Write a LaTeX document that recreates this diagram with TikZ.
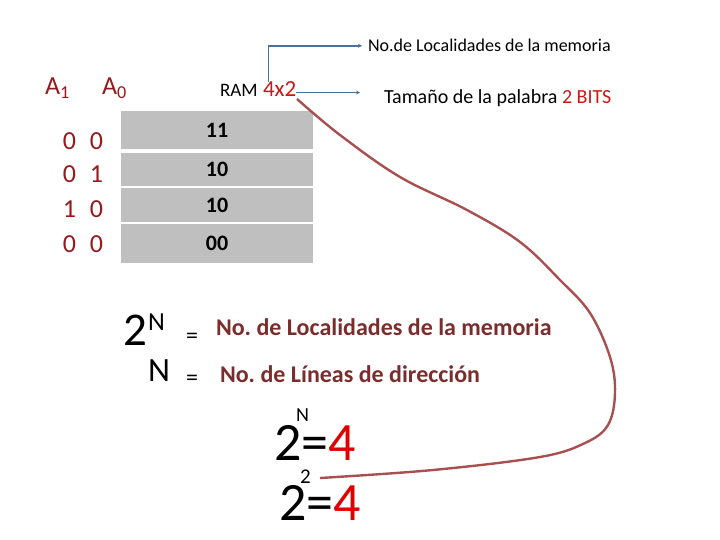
\documentclass[tikz,border=0pt]{standalone}
\usepackage{fontspec}
\setmainfont{Carlito}
\usetikzlibrary{arrows.meta}
\definecolor{addr}{RGB}{150,25,30}
\definecolor{redx}{RGB}{200,25,25}
\definecolor{redbig}{RGB}{225,0,0}
\definecolor{brownt}{RGB}{122,45,45}
\definecolor{curvec}{RGB}{168,80,80}
\definecolor{bluec}{RGB}{75,112,160}
\definecolor{cellg}{RGB}{191,191,191}
\newcommand{\fs}[1]{\fontsize{#1}{#1}\selectfont}
\tikzset{
  txt/.style={inner sep=0pt, outer sep=0pt, anchor=base west},
  cell/.style={fill=cellg, inner sep=0pt, minimum width=192pt, font=\fs{22}\bfseries},
  bit/.style={inner sep=0pt, anchor=base, text=addr, font=\fs{26}},
  bluearrow/.style={draw=bluec, line width=1.4pt, -{Stealth[length=4pt,width=4pt]}},
  curveline/.style={draw=curvec, line width=2.4pt},
}
\begin{document}
\frenchspacing
\begin{tikzpicture}[x=1pt,y=-1pt]
\useasboundingbox (0,0) rectangle (720,540);
% top labels
\node[txt, font=\fs{18}] (top) at (368,52) {No.de Localidades de la memoria};
\node[txt, font=\fs{20}] (tam) at (384,104) {Tamaño de la palabra \textcolor{redx}{2 BITS}};
\node[txt, font=\fs{19}] (ram) at (220,97) {RAM};
\node[txt, font=\fs{23}, text=redx] (dim) at (263,97) {4x2};
% address headers
\node[txt, font=\fs{26}, text=addr] (a1) at (45,95) {A\textsubscript{1}};
\node[txt, font=\fs{26}, text=addr] (a0) at (102,95) {A\textsubscript{0}};
% memory cells
\node[cell, minimum height=38pt] (r1) at (217,130) {11};
\node[cell, minimum height=33pt] (r2) at (217,169.5) {10};
\node[cell, minimum height=34pt] (r3) at (217,205) {10};
\node[cell, minimum height=39pt] (r4) at (217,243.5) {00};
% address bits
\node[bit] (b11) at (69.5,150) {0};  \node[bit] (b10) at (96.5,150) {0};
\node[bit] (b21) at (69.5,183) {0};  \node[bit] (b20) at (96.5,183) {1};
\node[bit] (b31) at (69.5,218) {1};  \node[bit] (b30) at (96.5,218) {0};
\node[bit] (b41) at (69.5,252) {0};  \node[bit] (b40) at (96.5,252) {0};
% formulas
\node[txt, font=\fs{47}] (two) at (123,345) {2};
\node[txt, font=\fs{26}] (supN) at (148,330) {N};
\node[txt, font=\fs{24}] (eq1) at (186,343) {=};
\node[txt, font=\fs{24}\bfseries, text=brownt] (loc) at (216,335) {No. de Localidades de la memoria};
\node[txt, font=\fs{34}] (n2) at (148,381) {N};
\node[txt, font=\fs{24}] (eq2) at (186,385) {=};
\node[txt, font=\fs{24}\bfseries, text=brownt] (lin) at (220,382) {No. de Líneas de dirección};
% 2^N = 4
\node[txt, font=\fs{54}] (e1) at (274,460) {2=\textcolor{redbig}{4}};
\node[txt, font=\fs{20}] (e1n) at (296,421) {N};
\node[txt, font=\fs{54}] (e2) at (279,520) {2=\textcolor{redbig}{4}};
\node[txt, font=\fs{21}] (e2s) at (300,483) {2};
% connectors
\coordinate (vstart) at ([xshift=-11pt]dim.north);
\draw[bluearrow] (vstart) |- ([xshift=-6pt]top.west);
\draw[bluearrow] ([yshift=-3pt]dim.east) -- ([xshift=-24pt,yshift=-3pt]dim.east -| tam.west);
\coordinate (cs) at (297,99);
\coordinate (ce) at (320,478);
\draw[curveline] plot[smooth, tension=0.6] coordinates {(cs) (340,135) (400,177) (467,210) (520,242) (560,280) (590,313) (610,357) (615,393) (608,425) (585,443) (540,457) (433,470) (ce)};
\end{tikzpicture}
\end{document}
